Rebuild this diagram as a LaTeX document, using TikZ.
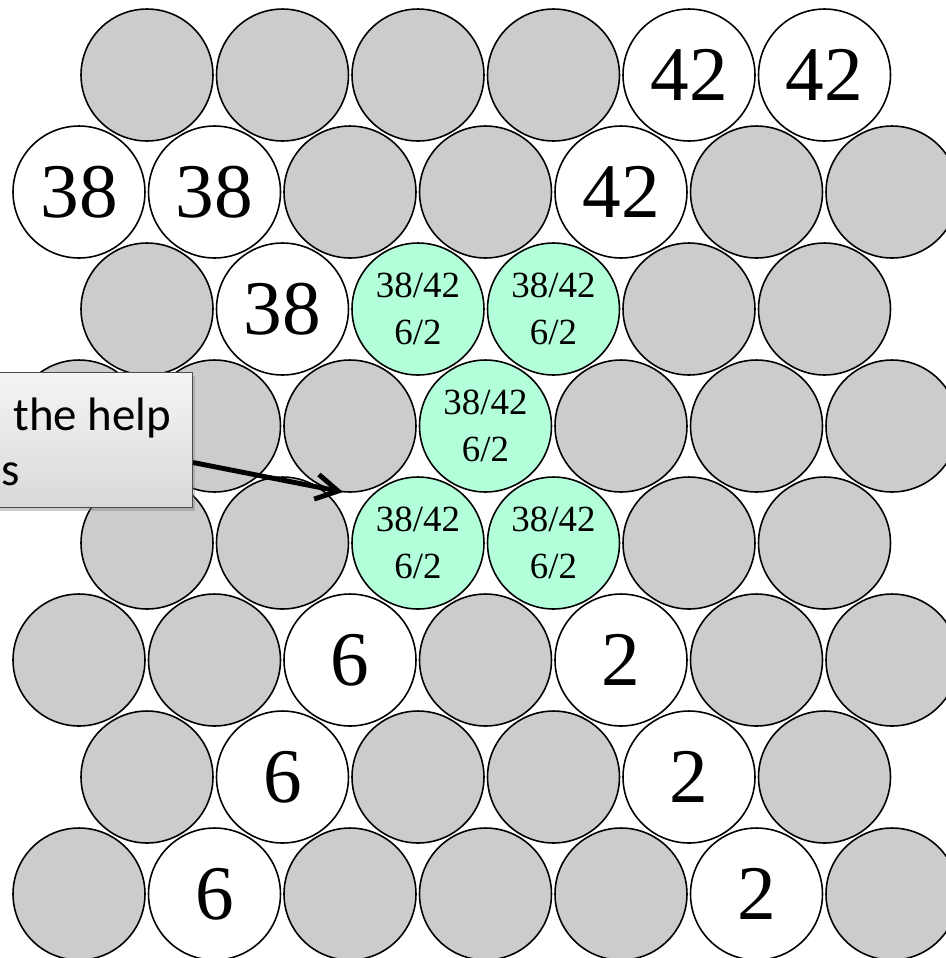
\documentclass[tikz,border=0pt]{standalone}
\usepackage{fontspec}
\setmainfont{Liberation Serif}
\newfontfamily\notefont{Carlito}
\usetikzlibrary{arrows.meta,shadows}

\definecolor{cellgray}{RGB}{204,204,204}
\definecolor{mint}{RGB}{179,255,217}

\newcommand{\pairlabel}{38/42\\6/2}

\begin{document}
\begin{tikzpicture}[x=0.02cm, y=-0.02cm,
    cell/.style={circle, draw, line width=0.9pt, minimum size=2.64cm, inner sep=0pt, fill=cellgray},
    free/.style={cell, fill=white, font=\fontsize{44}{44}\selectfont},
    shared/.style={cell, fill=mint, align=center, font=\fontsize{21}{26.5}\selectfont},
    notebox/.style={rectangle, draw=black!70, line width=0.6pt, top color=gray!8, bottom color=gray!30,
                    drop shadow={shadow xshift=0.06cm, shadow yshift=-0.06cm, opacity=0.4},
                    minimum width=5.4cm, minimum height=2.7cm},
    notetext/.style={font=\notefont\fontsize{26.7}{32}\selectfont, inner sep=0pt}]
    \useasboundingbox (0,0) rectangle (946,958);
    \clip (0,0) rectangle (946,958);

    \foreach \k/\kind/\txt in {0/cell/,1/cell/,2/cell/,3/cell/,4/free/42,5/free/42}
        \node[\kind] (r1-\k) at ({147+135.5*\k},75) {\txt};
    \foreach \k/\kind/\txt in {0/free/38,1/free/38,2/cell/,3/cell/,4/free/42,5/cell/,6/cell/}
        \node[\kind] (r2-\k) at ({79+135.5*\k},192) {\txt};
    \foreach \k/\kind/\txt in {0/cell/,1/free/38,2/shared/\pairlabel,3/shared/\pairlabel,4/cell/,5/cell/}
        \node[\kind] (r3-\k) at ({147+135.5*\k},309) {\txt};
    \foreach \k/\kind/\txt in {0/cell/,1/cell/,2/cell/,3/shared/\pairlabel,4/cell/,5/cell/,6/cell/}
        \node[\kind] (r4-\k) at ({79+135.5*\k},426) {\txt};
    \foreach \k/\kind/\txt in {0/cell/,1/cell/,2/shared/\pairlabel,3/shared/\pairlabel,4/cell/,5/cell/}
        \node[\kind] (r5-\k) at ({147+135.5*\k},543) {\txt};
    \foreach \k/\kind/\txt in {0/cell/,1/cell/,2/free/6,3/cell/,4/free/2,5/cell/,6/cell/}
        \node[\kind] (r6-\k) at ({79+135.5*\k},660) {\txt};
    \foreach \k/\kind/\txt in {0/cell/,1/free/6,2/cell/,3/cell/,4/free/2,5/cell/}
        \node[\kind] (r7-\k) at ({147+135.5*\k},777) {\txt};
    \foreach \k/\kind/\txt in {0/cell/,1/free/6,2/cell/,3/cell/,4/cell/,5/free/2,6/cell/}
        \node[\kind] (r8-\k) at ({79+135.5*\k},894) {\txt};

    % callout, cut off at the left edge
    \node[notebox, anchor=north east] (note) at (193,372) {};
    \node[notetext, anchor=base west] (noteA) at (13,430) {the help};
    \node[notetext, anchor=base west] (noteB) at (1,485) {s};
    \coordinate (tip) at (343,492);
    \draw[line width=2.8pt, -{Straight Barb[length=0.44cm, width=0.5cm]}] ([yshift=-0.45cm]note.east) -- (tip);
\end{tikzpicture}
\end{document}
